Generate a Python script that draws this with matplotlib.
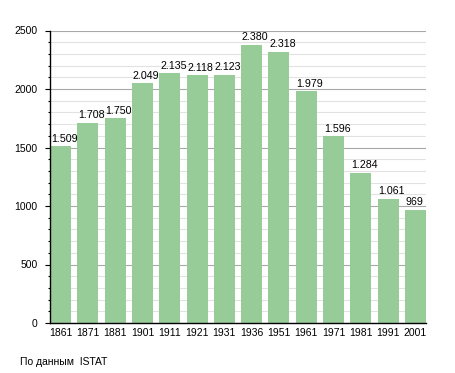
import matplotlib
matplotlib.use('Agg')
import matplotlib.pyplot as plt
from matplotlib.ticker import MultipleLocator

years = ['1861', '1871', '1881', '1901', '1911', '1921', '1931',
         '1936', '1951', '1961', '1971', '1981', '1991', '2001']
pop = [1509, 1708, 1750, 2049, 2135, 2118, 2123,
       2380, 2318, 1979, 1596, 1284, 1061, 969]
labels = [f'{v:,}'.replace(',', '.') for v in pop]

plt.rcParams['font.family'] = ['Liberation Sans', 'DejaVu Sans']

fig = plt.figure(figsize=(4.55, 3.73), dpi=100)
ax = fig.add_axes([50 / 455, 50 / 373, 376 / 455, 292.5 / 373])

w = 0.77
x = list(range(len(years)))
ax.bar(x, pop, width=w, color='#97cb97', zorder=2)
# value labels sit left-aligned on the bar's left edge
for xi, v, lab in zip(x, pop, labels):
    ax.text(xi - w / 2 + 0.03, v + 40, lab, ha='left', va='baseline',
            fontsize=7.7, zorder=3)

ax.set_xlim(-w / 2, len(years) - 1 + w / 2)
ax.set_ylim(0, 2500)
ax.set_xticks(x)
ax.set_xticklabels(years)
ax.yaxis.set_major_locator(MultipleLocator(500))
ax.yaxis.set_minor_locator(MultipleLocator(100))
ax.grid(axis='y', which='major', color='#a8a8a8', lw=0.8, zorder=0)
ax.grid(axis='y', which='minor', color='#e2e2e2', lw=0.8, zorder=0)
ax.tick_params(axis='y', which='major', length=3.6, width=0.8,
               labelsize=7.5, pad=5.5)
ax.tick_params(axis='y', which='minor', length=1.8, width=0.8)
ax.tick_params(axis='x', length=0, labelsize=7.5, pad=3.5)
for s in ('top', 'right'):
    ax.spines[s].set_visible(False)
ax.spines['left'].set_linewidth(1)
ax.spines['bottom'].set_linewidth(1)

fig.text(20 / 455, 1 - 362 / 373, 'По данным  ISTAT', fontsize=7.5,
         va='center', ha='left')

fig.savefig('out.png', dpi=100)
